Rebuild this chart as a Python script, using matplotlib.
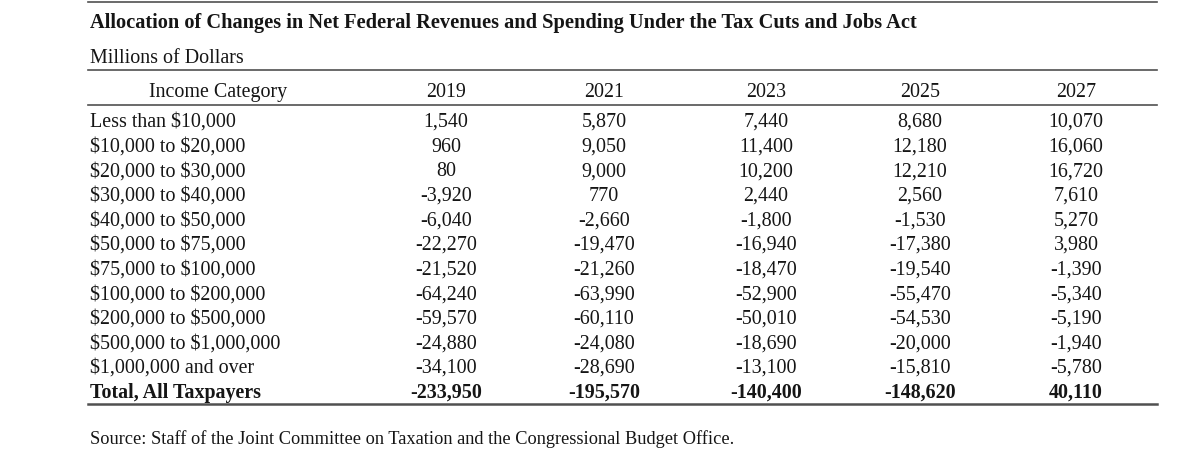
import matplotlib.pyplot as plt

plt.rcParams['font.family'] = ['Liberation Serif', 'DejaVu Serif']
plt.rcParams['text.parse_math'] = False

title = "Allocation of Changes in Net Federal Revenues and Spending Under the Tax Cuts and Jobs Act"
subtitle = "Millions of Dollars"
source = "Source: Staff of the Joint Committee on Taxation and the Congressional Budget Office."

years = ["2019", "2021", "2023", "2025", "2027"]
categories = [
    "Less than $10,000",
    "$10,000 to $20,000",
    "$20,000 to $30,000",
    "$30,000 to $40,000",
    "$40,000 to $50,000",
    "$50,000 to $75,000",
    "$75,000 to $100,000",
    "$100,000 to $200,000",
    "$200,000 to $500,000",
    "$500,000 to $1,000,000",
    "$1,000,000 and over",
]
v2019 = [1540, 960, 80, -3920, -6040, -22270, -21520, -64240, -59570, -24880, -34100]
v2021 = [5870, 9050, 9000, 770, -2660, -19470, -21260, -63990, -60110, -24080, -28690]
v2023 = [7440, 11400, 10200, 2440, -1800, -16940, -18470, -52900, -50010, -18690, -13100]
v2025 = [8680, 12180, 12210, 2560, -1530, -17380, -19540, -55470, -54530, -20000, -15810]
v2027 = [10070, 16060, 16720, 7610, 5270, 3980, -1390, -5340, -5190, -1940, -5780]
totals = [-233950, -195570, -140400, -148620, 40110]

W, H = 1194, 460
fig = plt.figure(figsize=(W / 100, H / 100), dpi=100)
ax = fig.add_axes([0, 0, 1, 1])
ax.set_xlim(0, W)
ax.set_ylim(H, 0)
ax.axis('off')

ink = '#151515'
x_left, x_right = 88, 1157
cat_center = 218
col_x = [446, 604, 766, 920, 1076]
row0, row_step = 127, 24.6   # baselines
fs = 14.4

# rules
ax.plot([x_left, x_right], [3, 3], color='#505050', lw=1.2)
ax.plot([x_left, x_right], [71, 71], color='#505050', lw=1.2)
ax.plot([x_left, x_right], [106, 106], color='#505050', lw=1.2)
ax.plot([x_left, x_right], [405, 405], color='#505050', lw=1.8)

ax.text(90, 28, title, fontsize=14.7, fontweight='bold', color=ink, va='baseline', ha='left')
ax.text(90, 63, subtitle, fontsize=fs, color=ink, va='baseline', ha='left')

# header row
ax.text(cat_center, 97, "Income Category", fontsize=fs, color=ink, va='baseline', ha='center')
for x, yr in zip(col_x, years):
    ax.text(x, 97, yr, fontsize=fs, color=ink, va='baseline', ha='center')

columns = [v2019, v2021, v2023, v2025, v2027]
for i, cat in enumerate(categories):
    y = row0 + i * row_step
    ax.text(90, y, cat, fontsize=fs, color=ink, va='baseline', ha='left')
    for x, col in zip(col_x, columns):
        ax.text(x, y, f"{col[i]:,}", fontsize=fs, color=ink, va='baseline', ha='center')

y = row0 + len(categories) * row_step
ax.text(90, y, "Total, All Taxpayers", fontsize=fs, fontweight='bold', color=ink,
        va='baseline', ha='left')
for x, t in zip(col_x, totals):
    ax.text(x, y, f"{t:,}", fontsize=fs, fontweight='bold', color=ink, va='baseline', ha='center')

ax.text(90, 444, source, fontsize=13.2, color=ink, va='baseline', ha='left')

fig.savefig('out.png', dpi=100)
